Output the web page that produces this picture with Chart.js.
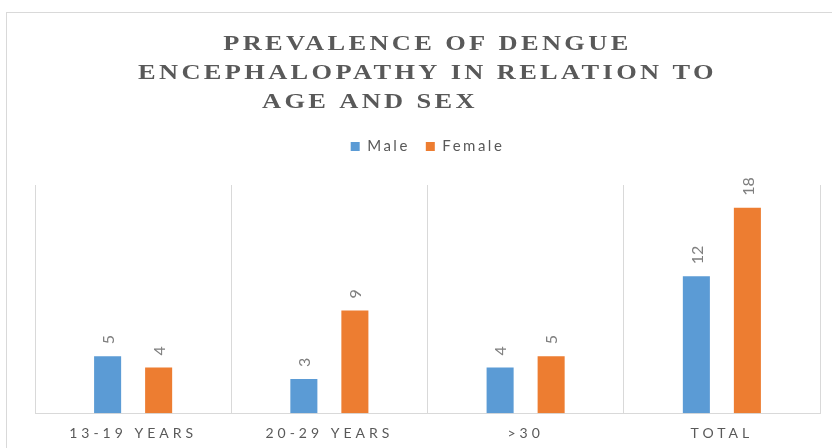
<!DOCTYPE html>
<html>
<head>
<meta charset="utf-8">
<script src="https://cdn.jsdelivr.net/npm/chart.js@4/dist/chart.umd.min.js"></script>
<style>
  html, body { margin: 0; padding: 0; background: #fff; }
  #wrap { width: 832px; height: 448px; }
</style>
</head>
<body>
<div id="wrap"><canvas id="chart"></canvas></div>
<script>
var categories = ['13-19 YEARS', '20-29 YEARS', '>30', 'TOTAL'];
var seriesNames = ['Male', 'Female'];
var maleValues = [5, 3, 4, 12];
var femaleValues = [4, 9, 5, 18];
var titleLines = ['PREVALENCE OF DENGUE', 'ENCEPHALOPATHY IN RELATION TO', 'AGE AND SEX'];

var BLUE = '#5b9bd5';
var ORANGE = '#ed7d31';
var TEXT = '#595959';

// run a method of a chart box with canvas letter spacing switched on
function withSpacing(obj, name, spacing, extraHeight) {
  if (!obj || obj['_sp_' + name]) return;
  var orig = obj[name];
  obj[name] = function () {
    var ctx = this.ctx;
    ctx.save();
    ctx.letterSpacing = spacing;
    var r = orig.apply(this, arguments);
    ctx.restore();
    if (extraHeight) this.height += extraHeight;
    return r;
  };
  obj['_sp_' + name] = true;
}

var framePlugin = {
  id: 'frame',
  afterInit: function (chart) {
    // extra room under the legend before the plot starts
    withSpacing(chart.legend, 'fit', '2.5px', 21);
    withSpacing(chart.legend, 'draw', '2.5px');
  },
  beforeDraw: function (chart) {
    var ctx = chart.ctx;
    ctx.save();
    ctx.fillStyle = '#ffffff';
    ctx.fillRect(0, 0, chart.width, chart.height);
    ctx.strokeStyle = '#d9d9d9';
    ctx.lineWidth = 1;
    ctx.strokeRect(6.5, 12.5, chart.width + 20, chart.height + 20);
    ctx.restore();
  },
  afterDraw: function (chart) {
    var ctx = chart.ctx;
    var sx = 1.2, sp = 2.8;
    ctx.save();
    ctx.font = 'bold 22px "Liberation Serif", "Times New Roman", serif';
    ctx.letterSpacing = sp + 'px';
    ctx.fillStyle = TEXT;
    ctx.textBaseline = 'alphabetic';
    ctx.scale(sx, 1);
    ctx.textAlign = 'center';
    ctx.fillText(titleLines[0], (426 + sp / 2) / sx, 50);
    ctx.fillText(titleLines[1], (426 + sp / 2) / sx, 79);
    ctx.textAlign = 'left';
    ctx.fillText(titleLines[2], 262 / sx, 108);
    ctx.restore();
  }
};

var valueLabels = {
  id: 'valueLabels',
  afterDatasetsDraw: function (chart) {
    var ctx = chart.ctx;
    ctx.save();
    ctx.font = '16px Lato, "Open Sans", sans-serif';
    ctx.fillStyle = '#7f7f7f';
    ctx.textAlign = 'left';
    ctx.textBaseline = 'middle';
    chart.data.datasets.forEach(function (ds, i) {
      chart.getDatasetMeta(i).data.forEach(function (bar, j) {
        ctx.save();
        ctx.translate(bar.x + 1, bar.y - 12);
        ctx.rotate(-Math.PI / 2);
        ctx.fillText(String(ds.data[j]), 0, 0);
        ctx.restore();
      });
    });
    ctx.restore();
  }
};

new Chart(document.getElementById('chart'), {
  type: 'bar',
  data: {
    labels: categories,
    datasets: [
      { label: seriesNames[0], data: maleValues, backgroundColor: BLUE,
        categoryPercentage: 0.52, barPercentage: 0.53 },
      { label: seriesNames[1], data: femaleValues, backgroundColor: ORANGE,
        categoryPercentage: 0.52, barPercentage: 0.53 }
    ]
  },
  options: {
    responsive: true,
    maintainAspectRatio: false,
    animation: false,
    layout: { padding: { top: 123, left: 35, right: 12, bottom: -6 } },
    plugins: {
      title: { display: false },
      tooltip: { enabled: false },
      legend: {
        position: 'top',
        labels: {
          boxWidth: 9,
          boxHeight: 9,
          padding: 16,
          color: TEXT,
          font: { family: 'Lato, "Open Sans", sans-serif', size: 15 }
        }
      }
    },
    scales: {
      x: {
        grid: { display: true, color: '#d9d9d9', drawTicks: false, offset: true },
        border: { display: true, color: '#d9d9d9' },
        ticks: {
          color: TEXT,
          padding: 12,
          font: { family: 'Lato, "Open Sans", sans-serif', size: 14 }
        },
        afterFit: function (scale) {
          withSpacing(scale, 'drawLabels', '4px');
        }
      },
      y: {
        display: false,
        min: 0,
        max: 20
      }
    }
  },
  plugins: [framePlugin, valueLabels]
});
</script>
</body>
</html>
